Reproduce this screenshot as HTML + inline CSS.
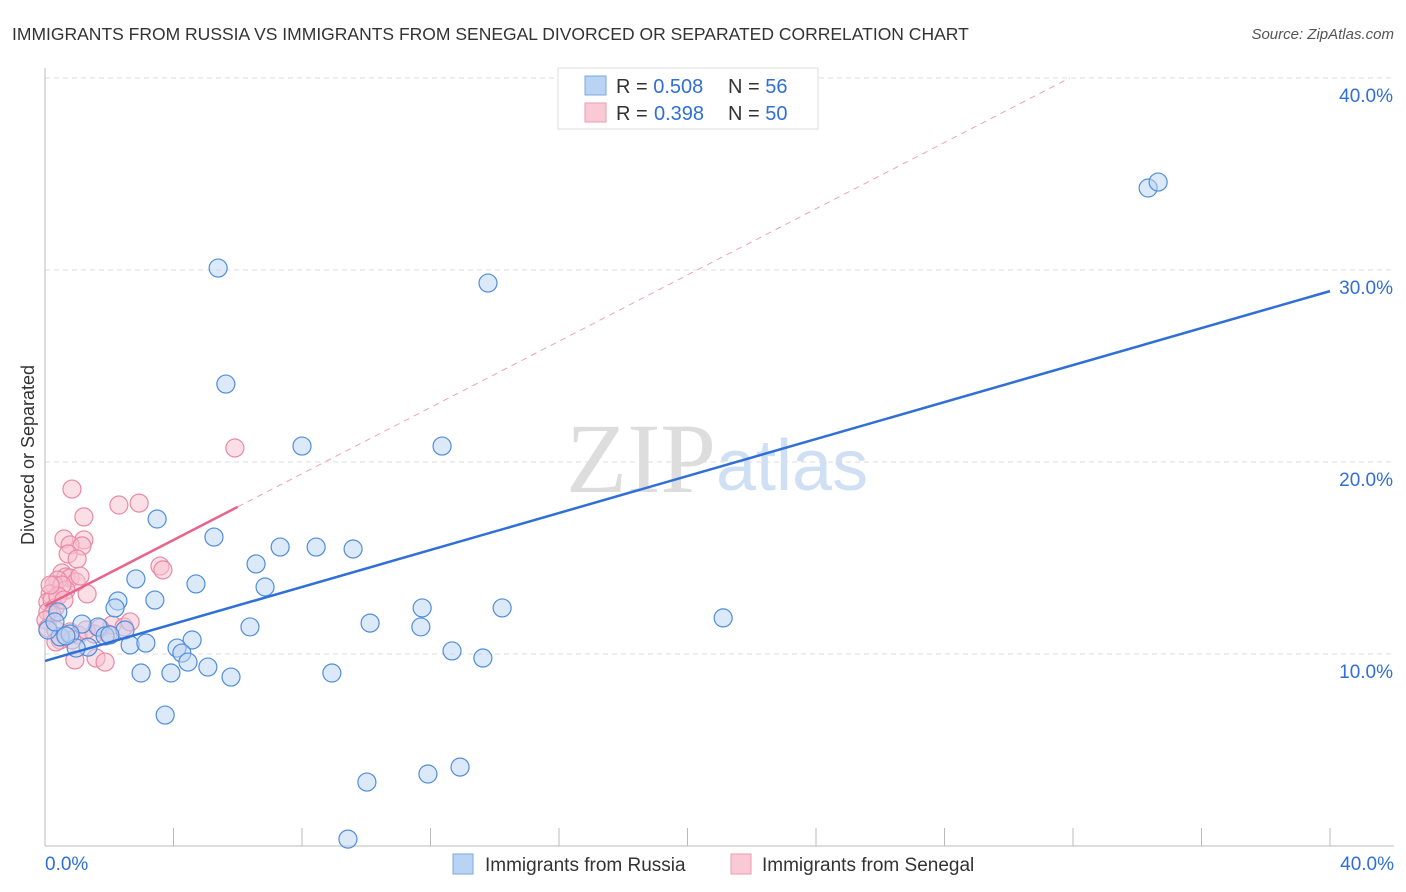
<!DOCTYPE html>
<html><head><meta charset="utf-8"><style>
body{margin:0;background:#fff;font-family:"Liberation Sans",sans-serif;}
svg{display:block}
</style></head><body>
<svg id="chart" width="1406" height="892">
<text x="12" y="40" font-size="17.5" fill="#333">IMMIGRANTS FROM RUSSIA VS IMMIGRANTS FROM SENEGAL DIVORCED OR SEPARATED CORRELATION CHART</text>
<text x="1394" y="39" font-size="15" fill="#555" font-style="italic" text-anchor="end">Source: ZipAtlas.com</text>
<text x="716" y="492" font-size="100" fill="#ddd" text-anchor="end" font-family="Liberation Serif">ZIP</text>
<text x="716" y="490" font-size="72" fill="#cfe0f5">atlas</text>
<g id="grid"></g><g id="axes"></g>
<g id="pts"></g><g id="lines"></g>
<text transform="translate(34,455) rotate(-90)" font-size="18" fill="#333" text-anchor="middle">Divorced or Separated</text>
<g>
<rect x="558" y="68" width="260" height="61" fill="#fff" stroke="#ddd"/>
<rect x="585" y="76" width="21" height="19" fill="#b9d3f3" stroke="#7aaae6"/>
<rect x="585" y="103" width="21" height="19" fill="#f9c9d5" stroke="#ee9ab0"/>
<text x="616" y="93" font-size="20" fill="#333">R = <tspan fill="#2f6fd6">0.508</tspan><tspan x="728">N = </tspan><tspan fill="#2f6fd6">56</tspan></text>
<text x="616" y="120" font-size="20" fill="#333">R = <tspan x="654" fill="#2f6fd6">0.398</tspan><tspan x="728">N = </tspan><tspan fill="#2f6fd6">50</tspan></text>
</g>
<g>
<rect x="453" y="854" width="20" height="20" fill="#b9d3f3" stroke="#7aaae6"/>
<text x="485" y="871" font-size="19" fill="#333">Immigrants from Russia</text>
<rect x="731" y="854" width="20" height="20" fill="#f9c9d5" stroke="#ee9ab0"/>
<text x="762" y="871" font-size="19" fill="#333">Immigrants from Senegal</text>
</g>
</svg>
<script>
const yTicks=[10,20,30,40];
const russiaX=[5.39,13.79,34.34,34.65,5.63,8.0,12.36,3.49,5.26,7.32,8.44,9.59,6.57,2.83,4.70,6.85,3.42,2.27,11.74,14.23,2.18,21.11,10.12,6.38,11.70,2.49,1.65,1.15,1.87,0.47,0.78,0.09,2.65,3.14,4.58,4.11,4.26,1.34,0.97,12.67,13.63,4.45,5.07,2.99,3.92,5.79,8.93,3.74,10.02,11.92,12.92,9.43,0.40,0.31,0.65,2.02];
const russiaY=[30.1,29.32,34.27,34.58,24.06,20.83,20.83,17.03,16.09,15.57,15.57,15.47,14.69,13.91,13.65,13.49,12.81,12.76,12.40,12.40,12.40,11.88,11.61,11.41,11.41,11.25,11.41,11.56,10.94,10.89,11.04,11.25,10.47,10.57,10.73,10.31,10.05,10.36,10.31,10.16,9.79,9.58,9.32,9.01,9.01,8.80,9.01,6.82,3.33,3.75,4.11,0.36,12.19,11.67,10.94,10.99];
const senegalX=[0.84,1.21,2.30,2.93,5.91,0.59,1.21,0.78,1.15,0.72,1.0,3.58,3.67,0.53,0.65,0.78,0.97,0.40,0.28,0.65,1.31,0.16,0.09,0.22,0.31,0.09,0.22,0.03,0.09,0.34,0.47,0.78,1.03,1.53,1.96,2.09,2.46,0.93,1.59,1.87,0.53,0.40,1.09,0.16,0.59,0.84,1.28,1.71,2.65,0.34];
const senegalY=[18.59,17.14,17.76,17.86,20.73,15.99,15.94,15.68,15.63,15.21,14.95,14.58,14.38,14.22,14.01,13.96,13.75,13.85,13.59,13.33,13.13,13.13,12.71,12.81,12.40,12.19,12.03,11.77,11.35,11.25,10.73,11.15,10.99,11.04,11.04,11.51,11.41,9.69,9.79,9.58,13.59,13.02,14.06,13.59,12.81,10.73,11.25,11.35,11.67,10.63];
const russiaTrend=[9.64,0.4815];
const senegalTrend=[12.49,0.8625];
const NS="http://www.w3.org/2000/svg";
const X=v=>45+v*1285/40, Y=v=>846-v*19.2;
function mk(t,a,p){const e=document.createElementNS(NS,t);for(const k in a)e.setAttribute(k,a[k]);p.appendChild(e);return e;}
const grid=document.getElementById('grid'),axes=document.getElementById('axes'),pts=document.getElementById('pts'),lines=document.getElementById('lines');
yTicks.forEach(t=>{
 const l=mk('line',{x1:45,x2:1394,y1:Y(t),y2:Y(t),stroke:'#ddd','stroke-dasharray':'5,4'},grid);
 
 
 const tx=mk('text',{x:1393,y:Y(t)+24,'font-size':19,fill:'#2f6fd6','text-anchor':'end'},axes);tx.textContent=t.toFixed(1)+'%';
 
 
});
mk('line',{x1:45,x2:45,y1:68,y2:846,stroke:'#bbb'},axes);
mk('line',{x1:45,x2:1394,y1:846,y2:846,stroke:'#bbb'},axes);
for(let i=1;i<=10;i++){mk('line',{x1:X(i*4),x2:X(i*4),y1:828,y2:846,stroke:'#bbb'},axes);}
let t0=mk('text',{x:45,y:870,'font-size':19,fill:'#2f6fd6'},axes);t0.textContent='0.0%';


let t1=mk('text',{x:1394,y:870,'font-size':19,fill:'#2f6fd6','text-anchor':'end'},axes);t1.textContent='40.0%';


function dots(xs,ys,fill,stroke,name){xs.forEach((x,i)=>{const c=mk('circle',{cx:X(x),cy:Y(ys[i]),r:9,fill:fill,'fill-opacity':0.5,stroke:stroke,'stroke-width':1.2},pts);
 
 });}
dots(senegalX,senegalY,'#f7bfd0','#ea88a4','point-senegal');
dots(russiaX,russiaY,'#b9d3f3','#4f8ddc','point-russia');
let bl=mk('line',{x1:X(0),y1:Y(russiaTrend[0]),x2:X(40),y2:Y(russiaTrend[0]+40*russiaTrend[1]),stroke:'#2f6fd6','stroke-width':2.5},lines);


let pe=(40-senegalTrend[0])/senegalTrend[1];
let pd=mk('line',{x1:X(6),y1:Y(senegalTrend[0]+6*senegalTrend[1]),x2:X(pe),y2:Y(40),stroke:'#f0a0b8','stroke-width':1,'stroke-dasharray':'6,5'},lines);


let pl=mk('line',{x1:X(0),y1:Y(senegalTrend[0]),x2:X(6),y2:Y(senegalTrend[0]+6*senegalTrend[1]),stroke:'#e8648a','stroke-width':2.5},lines);


</script>
</body></html>
